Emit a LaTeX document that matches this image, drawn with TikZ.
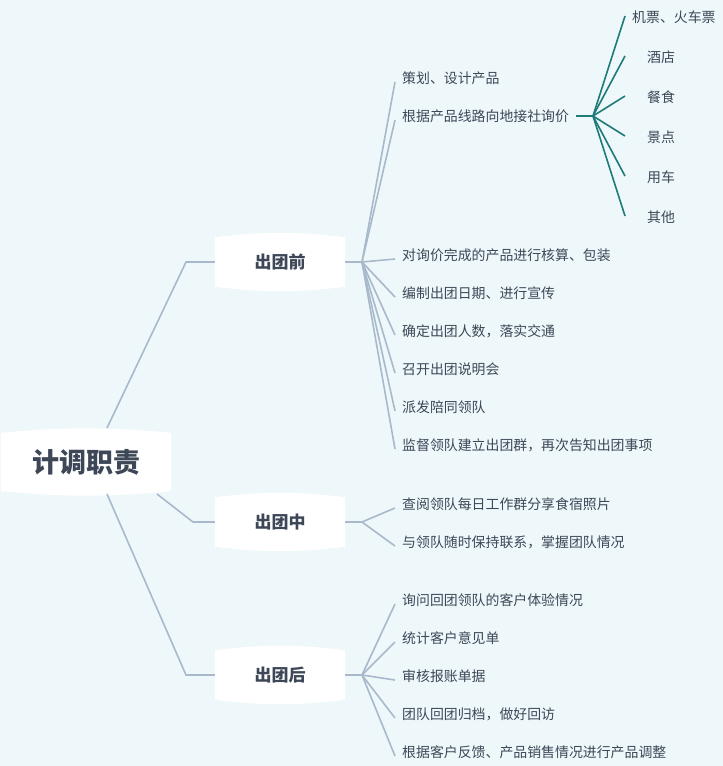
\documentclass[tikz,border=0pt]{standalone}
\usepackage{fontspec}
\setmainfont{Noto Sans CJK SC}
\usetikzlibrary{calc}
\definecolor{bgc}{HTML}{EEF7FA}
\definecolor{linec}{HTML}{A9B9CC}
\definecolor{tealc}{HTML}{1E7B78}
\definecolor{textc}{HTML}{3D4757}
\tikzset{
% node styles for the mind map
root node/.style={inner sep=0,minimum width=170,minimum height=64,font=\fontsize{27}{29}\selectfont\bfseries,text=textc},
topic node/.style={inner sep=0,minimum width=130,minimum height=55,font=\fontsize{17}{19}\selectfont\bfseries,text=textc},
leaf node/.style={anchor=west,inner sep=0,font=\fontsize{13.9}{15}\selectfont,text=textc},
link/.style={draw=linec,line width=1.6},
sublink/.style={draw=tealc,line width=1.6}
}
% white ribbon behind a node
\newcommand{\ribbon}[2]{%
  \fill[white] ($(#1.north west)+(0,#2)$) .. controls ($(#1.north)+(-20,-#2)$) and ($(#1.north)+(20,-#2)$) .. ($(#1.north east)+(0,#2)$)
    -- ($(#1.south east)+(0,-#2)$) .. controls ($(#1.south)+(20,#2)$) and ($(#1.south)+(-20,#2)$) .. ($(#1.south west)+(0,-#2)$) -- cycle;}
\begin{document}
\begin{tikzpicture}[x=1pt,y=-1pt]
  \fill[bgc] (0,0) rectangle (723,766);
  \useasboundingbox (0,0) rectangle (723,766);
  % main nodes
  \node[root node] (root) at (86,462) {\phantom{计调职责}};
  \node[topic node] (pre) at (280,262) {\phantom{出团前}};
  \node[topic node] (mid) at (280,522) {\phantom{出团中}};
  \node[topic node] (post) at (280,675) {\phantom{出团后}};
  \ribbon{root}{3}
  \ribbon{pre}{3}
  \ribbon{mid}{3}
  \ribbon{post}{3}
  \node[root node] at (root) {计调职责};
  \node[topic node] at (pre) {出团前};
  \node[topic node] at (mid) {出团中};
  \node[topic node] at (post) {出团后};
  % root to topics
  \coordinate (r1) at (107,428);
  \coordinate (r2) at (157,494);
  \coordinate (r3) at (107,494);
  \draw[link] (r1) -- (186,262) -- (pre.west);
  \draw[link] (r2) -- (193,522) -- (mid.west);
  \draw[link] (r3) -- (186,675) -- (post.west);
  % leaves
  \coordinate (f1) at (362,262);
  \coordinate (f2) at (362,522);
  \coordinate (f3) at (362,675);
  \draw[link] (pre.east) -- (f1);
  \draw[link] (mid.east) -- (f2);
  \draw[link] (post.east) -- (f3);
  \foreach \t [count=\i] in {策划、设计产品,根据产品线路向地接社询价,对询价完成的产品进行核算、包装,编制出团日期、进行宣传,确定出团人数，落实交通,召开出团说明会,派发陪同领队,监督领队建立出团群，再次告知出团事项}{
    \pgfmathsetmacro{\yy}{\i<3 ? 40+38*\i : 255+38*(\i-3)}
    \node[leaf node] (pre\i) at (402,\yy) {\t};
    \draw[link] (f1) -- (395,\yy+4);
  }
  \foreach \t [count=\i] in {查阅领队每日工作群分享食宿照片,与领队随时保持联系，掌握团队情况}{
    \node[leaf node] (mid\i) at (402,466+38*\i) {\t};
    \draw[link] (f2) -- (395,470+38*\i);
  }
  \foreach \t [count=\i] in {询问回团领队的客户体验情况,统计客户意见单,审核报账单据,团队回团归档，做好回访,根据客户反馈、产品销售情况进行产品调整}{
    \node[leaf node] (post\i) at (402,562+38*\i) {\t};
    \draw[link] (f3) -- (395,566+38*\i);
  }
  % price enquiry items
  \coordinate (q) at (593,116);
  \draw[sublink] (576,116) -- (q);
  \node[leaf node] (q1) at (632,17) {机票、火车票};
  \foreach \t [count=\i] in {酒店,餐食,景点,用车,其他}{
    \node[leaf node] (q\i) at (647,17+40*\i) {\t};
  }
  \foreach \i in {0,...,5}{
    \draw[sublink] (q) -- (625,16+40*\i);
  }
\end{tikzpicture}
\end{document}
